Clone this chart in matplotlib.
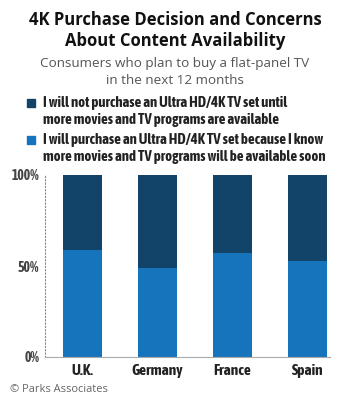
import numpy as np
import matplotlib.pyplot as plt
from matplotlib import font_manager

### data ###
countries = ["U.K.", "Germany", "France", "Spain"]
will_purchase = [59, 49, 57, 53]          # light blue, bottom
will_not = [100 - v for v in will_purchase]  # dark navy, top
yticks = [0, 50, 100]
ytick_labels = ["0%", "50%", "100%"]

dark = "#12446A"
light = "#1674BD"
grey = "#444444"
plain = ["Open Sans", "DejaVu Sans"]

# look for an upright condensed face that has a bold weight
cands = {}
for f in font_manager.fontManager.ttflist:
    if "Condensed" in f.name or "Narrow" in f.name or f.stretch in ("condensed", "semi-condensed"):
        w = f.weight if isinstance(f.weight, int) else 400
        cands.setdefault(f.name, []).append((w, f.style))
bold_cond = [n for n, ws in cands.items() if any(w >= 600 and s == "normal" for w, s in ws)]
cond_name = sorted(bold_cond)[0] if bold_cond else (sorted(cands)[0] if cands else None)
cond = [cond_name, "Roboto"] if cond_name else ["Roboto"]
ckw = dict(fontfamily=cond, fontweight="bold", fontstyle="normal")

fig = plt.figure(figsize=(3.5, 4.01), dpi=100)
ax = fig.add_axes([45/350, 1 - 357/401, 285/350, 182/401])

x = np.arange(len(countries))
ax.bar(x, will_purchase, width=0.53, color=light, edgecolor="none")
ax.bar(x, will_not, width=0.53, bottom=will_purchase, color=dark, edgecolor="none")

ax.set_xlim(-0.5, 3.3)
ax.set_ylim(0, 100)
ax.set_yticks(yticks)
ax.set_yticklabels(ytick_labels, fontsize=10, color=grey, **ckw)
ax.set_xticks(x)
ax.set_xticklabels(countries, fontsize=11, color="#222222", **ckw)
ax.tick_params(axis="both", length=0)
ax.tick_params(axis="y", pad=4)
ax.tick_params(axis="x", pad=5)
for s in ["top", "right"]:
    ax.spines[s].set_visible(False)
ax.spines["left"].set_linestyle((0, (1, 2)))
ax.spines["left"].set_color("#888888")
ax.spines["bottom"].set_color("#aaaaaa")

### titles ###
fig.text(0.5, 1 - 20/401, "4K Purchase Decision and Concerns", ha="center", va="center",
         fontfamily=plain, fontweight="bold", fontsize=12, color="#111111")
fig.text(0.5, 1 - 41/401, "About Content Availability", ha="center", va="center",
         fontfamily=plain, fontweight="bold", fontsize=12, color="#111111")
fig.text(0.5, 1 - 64/401, "Consumers who plan to buy a flat-panel TV", ha="center", va="center",
         fontfamily=plain, fontsize=9.7, color="#555555")
fig.text(0.5, 1 - 80/401, "in the next 12 months", ha="center", va="center",
         fontfamily=plain, fontsize=9.7, color="#555555")

### legend ###
legend_items = [
    (dark, "I will not purchase an Ultra HD/4K TV set until", "more movies and TV programs are available", 103),
    (light, "I will purchase an Ultra HD/4K TV set because I know", "more movies and TV programs will be available soon", 140),
]
for col, l1, l2, yc in legend_items:
    fig.patches.append(plt.Rectangle((27/350, 1 - (yc + 4)/401), 8/350, 8/401,
                                     transform=fig.transFigure, color=col))
    fig.text(43/350, 1 - yc/401, l1, ha="left", va="center", fontsize=10.6,
             color="#222222", **ckw)
    fig.text(43/350, 1 - (yc + 17)/401, l2, ha="left", va="center", fontsize=10.6,
             color="#222222", **ckw)

fig.text(10/350, 1 - 389/401, "© Parks Associates", ha="left", va="center",
         fontfamily=plain, fontsize=7.9, color="#666666")

fig.savefig("out.png", dpi=100)
